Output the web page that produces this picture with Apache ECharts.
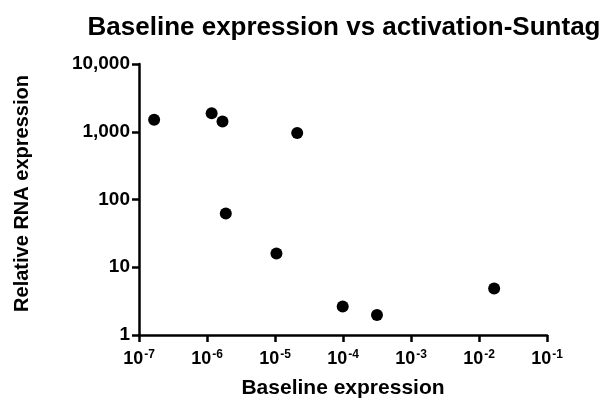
<!DOCTYPE html>
<html>
<head>
<meta charset="utf-8">
<script src="https://cdn.jsdelivr.net/npm/echarts@6/dist/echarts.min.js"></script>
<style>html,body{margin:0;padding:0;background:#fff}#c{width:608px;height:400px}</style>
</head>
<body>
<div id="c"></div>
<script>
var baselineExpression = [1.67e-7, 1.17e-6, 1.69e-6, 2.12e-5, 1.89e-6, 1.05e-5, 9.9e-5, 3.16e-4, 1.67e-2];
var relativeRNA = [1500, 1880, 1420, 960, 62, 16, 2.64, 1.97, 4.86];
var xTickExponents = ['-7', '-6', '-5', '-4', '-3', '-2', '-1'];
var yTickLabels = ['1', '10', '100', '1,000', '10,000'];

var points = baselineExpression.map(function (x, i) { return [x, relativeRNA[i]]; });
var font = 'Arial, "Liberation Sans", sans-serif';

var chart = echarts.init(document.getElementById('c'), null, {renderer: 'canvas'});
chart.setOption({
  animation: false,
  backgroundColor: '#fff',
  title: {
    text: 'Baseline expression vs activation-Suntag',
    left: 339, top: 10, textAlign: 'center',
    textStyle: {fontFamily: font, fontWeight: 'bold', fontSize: 26, color: '#000'}
  },
  grid: {left: 139, right: 61, top: 64, bottom: 65, containLabel: false, outerBoundsMode: 'none'},
  xAxis: {
    type: 'log', logBase: 10, min: 1e-7, max: 1e-1,
    name: 'Baseline expression', nameLocation: 'middle', nameGap: 43,
    nameTextStyle: {fontFamily: font, fontWeight: 'bold', fontSize: 21, color: '#000'},
    axisLine: {lineStyle: {color: '#000', width: 2.5}},
    axisTick: {show: true, length: 7, inside: false, lineStyle: {color: '#000', width: 2.5}},
    splitLine: {show: false},
    axisLabel: {
      margin: 14,
      formatter: function (v) {
        var e = Math.round(Math.log10(v));
        var idx = e + 7;
        return '{b|10}{s|' + xTickExponents[idx] + '}';
      },
      rich: {
        b: {fontFamily: font, fontWeight: 'bold', fontSize: 18, color: '#000'},
        s: {fontFamily: font, fontWeight: 'bold', fontSize: 12, color: '#000', padding: [0, 0, 9, 1]}
      }
    }
  },
  yAxis: {
    type: 'log', logBase: 10, min: 1, max: 10000,
    name: 'Relative RNA expression', nameLocation: 'middle', nameGap: 107, nameRotate: 90,
    nameTextStyle: {fontFamily: font, fontWeight: 'bold', fontSize: 20, color: '#000', padding: [0, 0, 0, 12]},
    axisLine: {show: true, lineStyle: {color: '#000', width: 2.5}},
    axisTick: {show: true, length: 7, inside: false, lineStyle: {color: '#000', width: 2.5}},
    splitLine: {show: false},
    axisLabel: {
      margin: 9,
      fontFamily: font, fontWeight: 'bold', fontSize: 19, color: '#000',
      formatter: function (v) {
        var e = Math.round(Math.log10(v));
        return yTickLabels[e];
      }
    }
  },
  series: [{
    type: 'scatter',
    data: points,
    symbol: 'circle',
    symbolSize: 12,
    itemStyle: {color: '#000', opacity: 1}
  }]
});
</script>
</body>
</html>
